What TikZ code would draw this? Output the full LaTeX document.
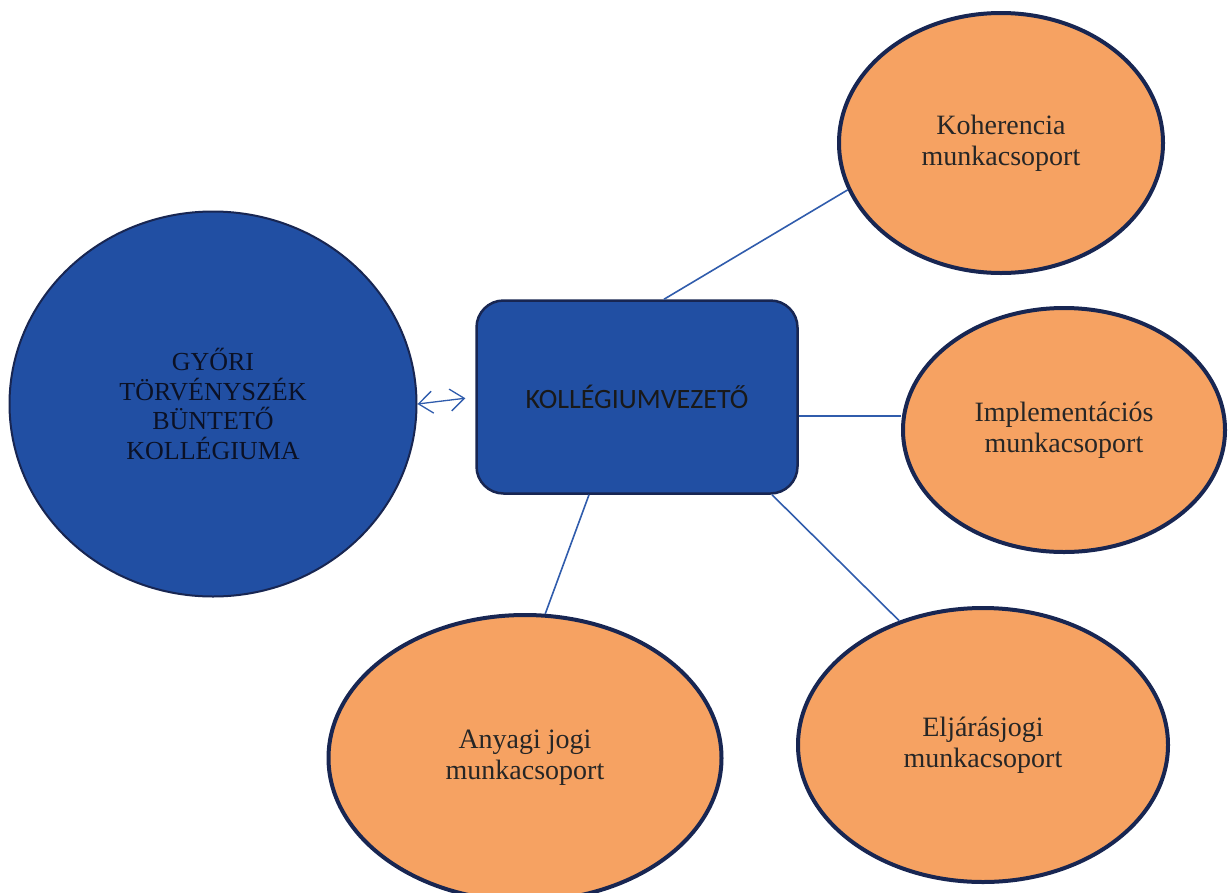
\documentclass[tikz,border=0pt]{standalone}
\usepackage{fontspec}
\setmainfont{Liberation Serif}
\newfontfamily\calibri{Carlito}
\usetikzlibrary{shapes,arrows.meta}
\definecolor{kek}{RGB}{33,79,163}
\definecolor{sotetkek}{RGB}{24,38,82}
\definecolor{narancs}{RGB}{246,162,98}
\definecolor{vonalszin}{RGB}{48,92,172}
\tikzset{
	munkacsoport/.style={ellipse,draw=sotetkek,line width=4pt,fill=narancs,inner sep=0pt,align=center,text=black!85,font=\fontsize{28}{31}\selectfont},
	kapcsolat/.style={draw=vonalszin,line width=1.6pt}
}
\begin{document}
\begin{tikzpicture}[x=1pt,y=-1pt]
			\useasboundingbox (0,0) rectangle (1229,892);
			\node[ellipse,draw=sotetkek,line width=2pt,fill=kek,minimum width=407pt,minimum height=385pt,align=center,text=sotetkek!45!black,font=\fontsize{26}{29.5}\selectfont] (gyor) at (213,404) {GYŐRI\\TÖRVÉNYSZÉK\\BÜNTETŐ\\KOLLÉGIUMA};
			\node[rounded corners=27pt,draw=sotetkek,line width=2.5pt,fill=kek,minimum width=321pt,minimum height=193pt,font=\calibri\fontsize{28}{30}\selectfont,text=black!90] (vezeto) at (637,397) {KOLLÉGIUMVEZETŐ};
			
			\node[munkacsoport,minimum width=324pt,minimum height=260pt] (koh) at (1001,143) {Koherencia\\munkacsoport};
			\node[munkacsoport,minimum width=322pt,minimum height=244pt] (impl) at (1064,430) {Implementációs\\munkacsoport};
			\node[munkacsoport,minimum width=393pt,minimum height=286pt] (any) at (525,758) {Anyagi jogi\\munkacsoport};
			\node[munkacsoport,minimum width=370pt,minimum height=274pt] (elj) at (983,745) {Eljárásjogi\\munkacsoport};
			
			\draw[vonalszin,line width=1.3pt,{Straight Barb[length=14pt,width=22pt]}-{Straight Barb[length=14pt,width=22pt]},shorten >=10pt] (gyor.east) -- (vezeto.west);
			
			\draw[kapcsolat] ([xshift=27pt]vezeto.north) -- (koh.197);
			\draw[kapcsolat] ([yshift=-19pt]vezeto.east) coordinate (jobb) -- (jobb -| impl.west);
			\draw[kapcsolat] ([xshift=-48pt]vezeto.south) -- (any.82);
			\draw[kapcsolat] ([xshift=135pt]vezeto.south) -- (elj.124);
		\end{tikzpicture}
\end{document}
